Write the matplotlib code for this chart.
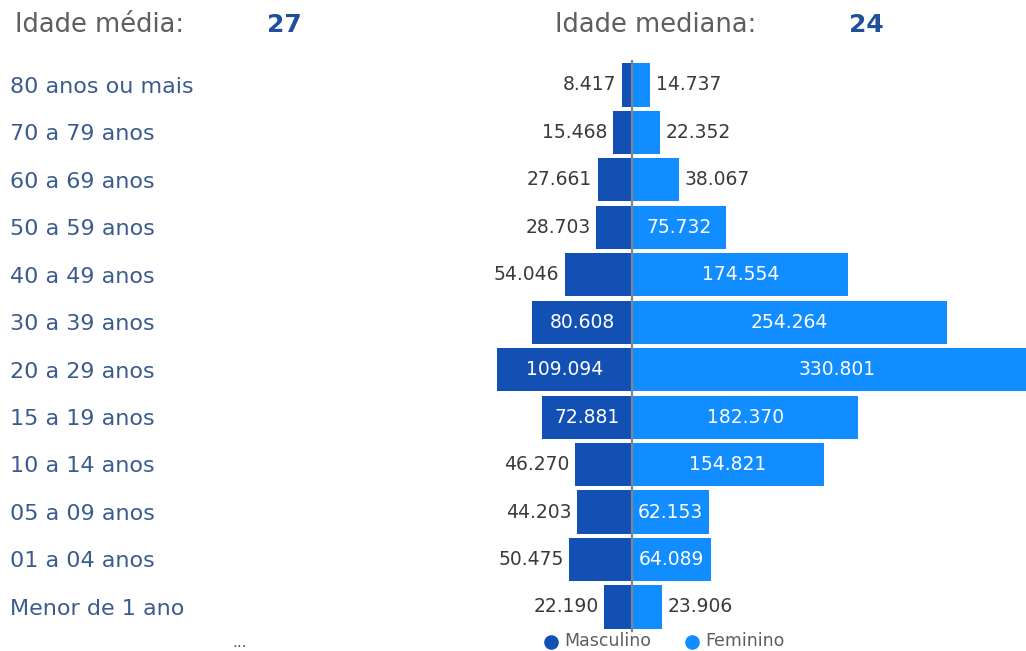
import matplotlib.pyplot as plt

# faixas etárias, de cima para baixo
faixas = ['80 anos ou mais', '70 a 79 anos', '60 a 69 anos', '50 a 59 anos',
          '40 a 49 anos', '30 a 39 anos', '20 a 29 anos', '15 a 19 anos',
          '10 a 14 anos', '05 a 09 anos', '01 a 04 anos', 'Menor de 1 ano']
masculino = [8417, 15468, 27661, 28703, 54046, 80608, 109094, 72881,
             46270, 44203, 50475, 22190]
feminino = [14737, 22352, 38067, 75732, 174554, 254264, 330801, 182370,
            154821, 62153, 64089, 23906]
idade_media = 27
idade_mediana = 24

cor_masc = '#1250B4'
cor_fem = '#118DFF'
cor_cinza = '#605E5C'
cor_rotulo = '#3B5B8F'
cor_numero = '#1F4E9C'
cor_valor = '#3A3A3A'

W, H = 1026, 651
fig = plt.figure(figsize=(W / 100, H / 100), dpi=100)
ax = fig.add_axes([0, 0, 1, 1])
ax.axis('off')

# escala: eixo zero em x=632 px, ~1.24 px por mil pessoas
px_por_mil = 1.24
x0 = 632
ax.set_xlim(-x0 / px_por_mil * 1000, (W - x0) / px_por_mil * 1000)

# linhas: centro da primeira em y=85 px, espaçamento 47.45 px
y_top, passo = 85, 47.45
ax.set_ylim((H - y_top) / passo, -y_top / passo)

ys = list(range(len(faixas)))
ax.barh(ys, [-v for v in masculino], height=0.91, color=cor_masc, zorder=2)
ax.barh(ys, feminino, height=0.91, color=cor_fem, zorder=2)
ax.plot([0, 0], [-0.5, len(faixas) - 0.5], color='#7C8595', lw=1.6, zorder=3)


def fmt(v):
    return f'{v:,}'.replace(',', '.')


fs_valor = 13.5
limite = 58000  # abaixo disso o rótulo vai para fora da barra
for y, m, f in zip(ys, masculino, feminino):
    if m >= limite:
        ax.text(-m / 2, y, fmt(m), color='white', fontsize=fs_valor,
                ha='center', va='center', zorder=4)
    else:
        ax.annotate(fmt(m), (-m, y), xytext=(-4, 0), textcoords='offset points',
                    color=cor_valor, fontsize=fs_valor, ha='right', va='center')
    if f >= limite:
        ax.text(f / 2, y, fmt(f), color='white', fontsize=fs_valor,
                ha='center', va='center', zorder=4)
    else:
        ax.annotate(fmt(f), (f, y), xytext=(4, 0), textcoords='offset points',
                    color=cor_valor, fontsize=fs_valor, ha='left', va='center')

# nomes das faixas à esquerda
for y, nome in zip(ys, faixas):
    ax.text(10 / W, y + 0.04, nome, transform=ax.get_yaxis_transform(),
            color=cor_rotulo, fontsize=16, ha='left', va='center')

# cabeçalho
fig.text(15 / W, 1 - 25 / H, 'Idade média:', color=cor_cinza, fontsize=18.5,
         ha='left', va='center')
fig.text(284 / W, 1 - 25 / H, str(idade_media), color=cor_numero, fontsize=18,
         fontweight='bold', ha='center', va='center')
fig.text(555 / W, 1 - 25 / H, 'Idade mediana:', color=cor_cinza, fontsize=18.5,
         ha='left', va='center')
fig.text(866 / W, 1 - 25 / H, str(idade_mediana), color=cor_numero, fontsize=18,
         fontweight='bold', ha='center', va='center')

# legenda
for xm, nome, cor in [(551, 'Masculino', cor_masc), (692, 'Feminino', cor_fem)]:
    ax.plot([xm / W], [1 - 642 / H], 'o', color=cor, markersize=9.5,
            transform=fig.transFigure, clip_on=False)
    fig.text((xm + 13) / W, 1 - 641 / H, nome, color=cor_cinza, fontsize=12.5,
             ha='left', va='center')

fig.text(240 / W, 1 - 647 / H, '...', color=cor_cinza, fontsize=11,
         ha='center', va='baseline')

fig.savefig('out.png', dpi=100, facecolor='white')
